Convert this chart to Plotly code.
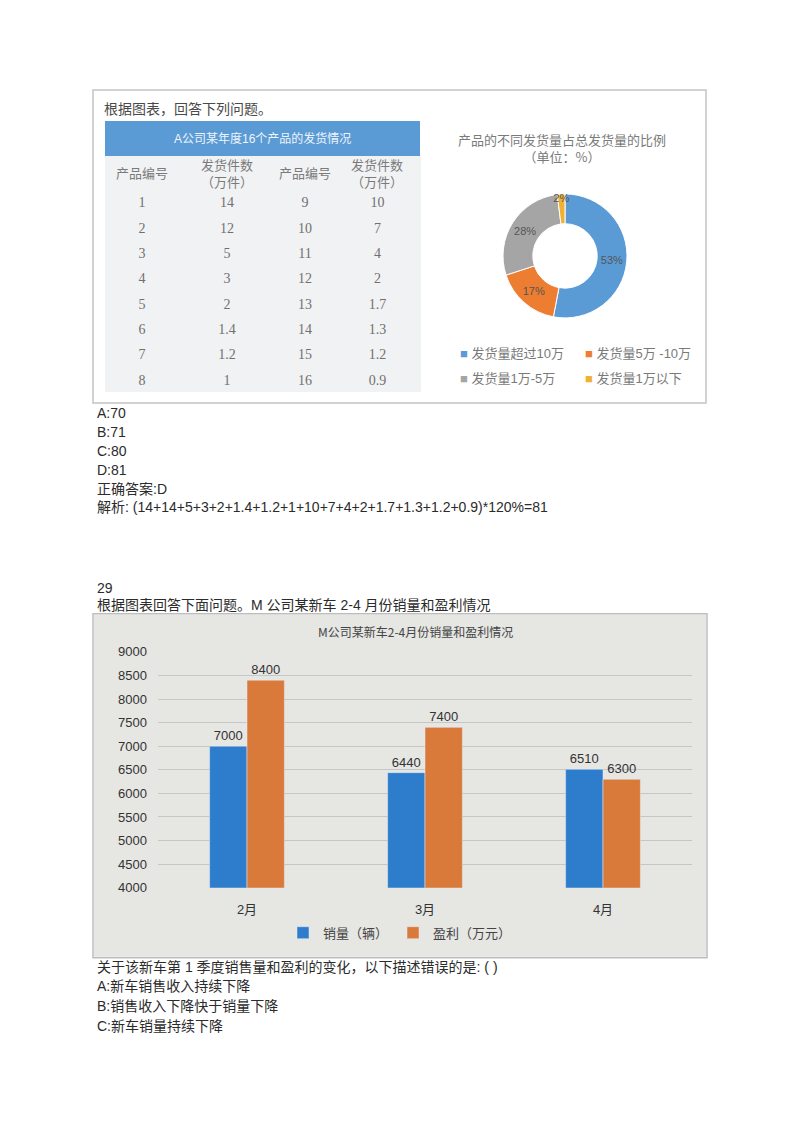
import plotly.graph_objects as go

W, H = 800, 1132
OFF_X = 8      # page body margin seen in the screenshot
OFF_Y = 14
SCALE_Y = 0.987

# table: A公司某年度16个产品的发货情况
table_title = "A公司某年度16个产品的发货情况"
col_headers = ["产品编号", "发货件数<br>（万件）", "产品编号", "发货件数<br>（万件）"]
ids_left = [1, 2, 3, 4, 5, 6, 7, 8]
qty_left = [14, 12, 5, 3, 2, 1.4, 1.2, 1]
ids_right = [9, 10, 11, 12, 13, 14, 15, 16]
qty_right = [10, 7, 4, 2, 1.7, 1.3, 1.2, 0.9]

# donut
pie_title = "产品的不同发货量占总发货量的比例<br>（单位：%）"
pie_labels = ["发货量超过10万", "发货量5万 -10万", "发货量1万-5万", "发货量1万以下"]
pie_values = [53, 17, 28, 2]
pie_colors = ["#5b9bd5", "#ed7d31", "#a5a5a5", "#f2b134"]

# bar chart
bar_title = "M公司某新车2-4月份销量和盈利情况"
months = ["2月", "3月", "4月"]
sales = [7000, 6440, 6510]
profit = [8400, 7400, 6300]

# page text
options_1 = ["A:70", "B:71", "C:80", "D:81", "正确答案:D",
             "解析: (14+14+5+3+2+1.4+1.2+1+10+7+4+2+1.7+1.3+1.2+0.9)*120%=81"]
question_2 = ["29", "根据图表回答下面问题。M 公司某新车 2-4 月份销量和盈利情况"]
options_2 = ["关于该新车第 1 季度销售量和盈利的变化，以下描述错误的是: ( )",
             "A:新车销售收入持续下降", "B:销售收入下降快于销量下降", "C:新车销量持续下降"]

SANS = "Liberation Sans, Noto Sans CJK SC"
CJK = "Noto Sans CJK SC"


def px(x):
    return (x - OFF_X) / W


def py(y):
    return 1 - (y - OFF_Y) / (SCALE_Y * H)


fig = go.Figure()

# empty subplot that only gives the grey background of the bar chart panel
fig.add_trace(go.Scatter(x=[], y=[], xaxis="x", yaxis="y", showlegend=False,
                         hoverinfo="skip"))

# table cells
fig.add_trace(go.Table(
    domain=dict(x=[px(105), px(420)], y=[py(392), py(155)]),
    columnwidth=[74, 96, 60, 85],
    header=dict(values=["", "", "", ""], height=33,
                fill_color="#f1f2f4", line_color="#f1f2f4"),
    cells=dict(values=[ids_left, qty_left, ids_right, qty_right],
               height=25.3, align="center",
               fill_color="#f1f2f4", line_color="#f1f2f4",
               font=dict(family="Liberation Serif", size=14, color="#707070")),
))

# donut
fig.add_trace(go.Pie(
    labels=pie_labels, values=pie_values,
    domain=dict(x=[px(503), px(627)], y=[py(317), py(193)]),
    hole=0.52, sort=False, direction="clockwise", rotation=0,
    marker=dict(colors=pie_colors, line=dict(color="white", width=1)),
    texttemplate="%{value}%", textposition="inside",
    insidetextorientation="horizontal",
    textfont=dict(family=SANS, size=11, color="#555555"),
    showlegend=False,
))

# bars
fig.add_trace(go.Bar(x=months, y=sales, name="销量（辆）", marker_color="#2e7dcc",
                     xaxis="x2", yaxis="y2",
                     text=sales, textposition="outside", cliponaxis=False,
                     textfont=dict(size=13, color="#333333")))
fig.add_trace(go.Bar(x=months, y=profit, name="盈利（万元）", marker_color="#d9793a",
                     xaxis="x2", yaxis="y2",
                     text=profit, textposition="outside", cliponaxis=False,
                     textfont=dict(size=13, color="#333333")))

shapes = [
    # top panel frame
    dict(type="rect", x0=px(93), x1=px(706), y0=py(402), y1=py(89),
         xref="paper", yref="paper",
         line=dict(color="#c4c4c4", width=1.5), fillcolor="rgba(0,0,0,0)", layer="above"),
    # blue title bar of the table
    dict(type="rect", x0=px(105), x1=px(420), y0=py(155), y1=py(120),
         xref="paper", yref="paper",
         line=dict(width=0), fillcolor="#5b9bd5", layer="above"),
    # bar chart frame
    dict(type="rect", x0=px(93), x1=px(707), y0=py(957), y1=py(613),
         xref="paper", yref="paper",
         line=dict(color="#bdbdbd", width=1.5), fillcolor="rgba(0,0,0,0)", layer="above"),
]

ann = []


def text(x, y, s, size=14, color="#2b2b2b", xanchor="left", family=SANS):
    ann.append(dict(x=px(x), y=py(y), xref="paper", yref="paper", text=s,
                    showarrow=False, xanchor=xanchor, yanchor="middle",
                    font=dict(family=family, size=size, color=color)))


text(102, 107, "根据图表，回答下列问题。", size=14, color="#4a4a4a", family=CJK)
text(262, 138, table_title, size=12, color="#eef4fb", xanchor="center")
for cx, h in zip([142, 227, 305, 377], col_headers):
    text(cx, 172, h, size=13, color="#7a7a7a", xanchor="center", family=CJK)
text(562, 147, pie_title, size=13, color="#7a7a7a", xanchor="center", family=CJK)
for (lx, ly), lab, col in zip([(458, 353), (583, 353), (458, 378), (583, 378)],
                              pie_labels, pie_colors):
    text(lx, ly, f"<span style='color:{col}'>■</span> {lab}", size=13, color="#7a7a7a")

for i, s in enumerate(options_1):
    text(95, [412, 431, 450, 469, 488, 506][i], s)
text(95, 587, question_2[0])
text(95, 604, question_2[1])
for i, s in enumerate(options_2):
    text(95, [966, 985, 1005, 1025][i], s)

text(415, 631, bar_title, size=12, color="#444444", xanchor="center", family=CJK)

fig.update_layout(
    width=W, height=H,
    margin=dict(l=0, r=0, t=0, b=0),
    paper_bgcolor="white", plot_bgcolor="#e6e6e3",
    shapes=shapes, annotations=ann,
    barmode="group", bargap=0.58, bargroupgap=0,
    uniformtext=dict(minsize=11, mode="show"),
    font=dict(family=SANS, color="#333333"),
    xaxis=dict(domain=[px(94), px(706)], visible=False, fixedrange=True),
    yaxis=dict(domain=[py(956), py(614)], visible=False, fixedrange=True),
    xaxis2=dict(domain=[px(158), px(692)], anchor="y2", showgrid=False, showline=False,
                ticklabelstandoff=12, tickfont=dict(family=SANS, size=13, color="#333333")),
    yaxis2=dict(domain=[py(887), py(651)], anchor="x2", range=[4000, 9000], dtick=500,
                showgrid=True, gridcolor="#c6c6c6", gridwidth=1, zeroline=False,
                showline=False, ticklabelstandoff=10,
                tickfont=dict(family=SANS, size=13, color="#333333")),
    legend=dict(orientation="h", x=px(400), xanchor="center", y=py(932), yanchor="middle",
                bgcolor="rgba(0,0,0,0)", font=dict(family=SANS, size=13, color="#444444")),
)

fig.write_html("out.html")
